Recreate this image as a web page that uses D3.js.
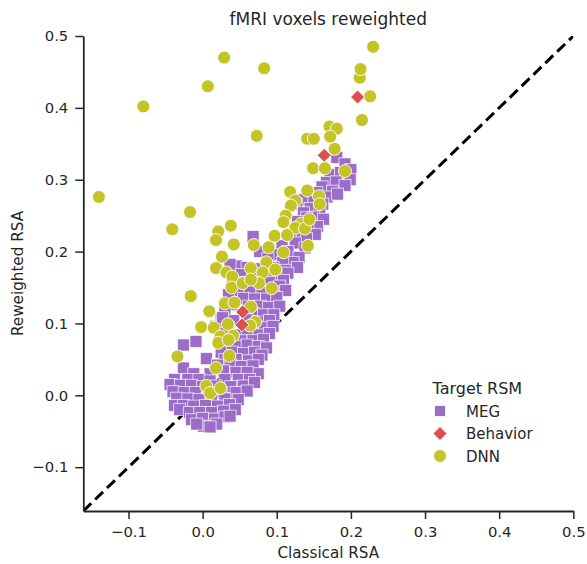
<!DOCTYPE html>
<html>
<head>
<meta charset="utf-8">
<script src="https://cdn.jsdelivr.net/npm/d3@7"></script>
<style>
  html, body { margin: 0; padding: 0; background: #fff; }
  svg { display: block; font-family: "DejaVu Sans", sans-serif; }
</style>
</head>
<body>
<svg id="chart" width="587" height="564"></svg>
<script>
// ---------------- data ----------------
const titleText = "fMRI voxels reweighted";
const xLabel = "Classical RSA";
const yLabel = "Reweighted RSA";
const legendTitle = "Target RSM";
const seriesNames = ["MEG", "Behavior", "DNN"];
const seriesColors = ["#9b6dc8", "#dd4f4f", "#c4c427"];
const xTicks = [-0.1, 0.0, 0.1, 0.2, 0.3, 0.4, 0.5];
const yTicks = [-0.1, 0.0, 0.1, 0.2, 0.3, 0.4, 0.5];
const axisMin = -0.161, axisMax = 0.5;

// MEG target RSM points [classical, reweighted]
const megPoints = [
  [0.181,0.331],[0.192,0.322],[0.200,0.314],[0.172,0.307],[0.186,0.310],[0.199,0.300],[0.167,0.296],
  [0.180,0.297],[0.192,0.292],[0.161,0.290],[0.175,0.284],[0.154,0.282],[0.142,0.280],[0.168,0.276],
  [0.182,0.280],[0.135,0.272],[0.150,0.270],[0.162,0.266],[0.127,0.266],[0.145,0.260],[0.158,0.256],
  [0.136,0.254],[0.150,0.248],[0.140,0.247],[0.163,0.245],[0.128,0.242],
  [0.155,0.235],[0.142,0.232],[0.152,0.224],[0.130,0.228],[0.118,0.222],[0.140,0.218],[0.107,0.208],
  [0.125,0.212],[0.138,0.205],[0.068,0.221],[0.077,0.200],[0.115,0.200],[0.100,0.196],[0.130,0.192],
  [0.122,0.185],[0.108,0.185],
  [0.088,0.190],[0.046,0.180],[0.037,0.182],[0.060,0.178],[0.075,0.176],[0.095,0.178],[0.112,0.174],
  [0.128,0.178],[0.052,0.168],[0.068,0.166],[0.085,0.168],[0.100,0.165],[0.115,0.170],[0.040,0.158],
  [0.058,0.157],[0.075,0.156],[0.090,0.157],[0.109,0.160],[0.104,0.152],[0.048,0.146],[0.064,0.145],
  [0.080,0.146],[0.095,0.144],[0.112,0.146],[0.035,0.140],[0.055,0.135],[0.070,0.134],[0.086,0.134],
  [0.100,0.136],
  [0.040,0.126],[0.062,0.124],[0.078,0.124],[0.089,0.122],[0.104,0.124],[0.030,0.116],[0.068,0.114],
  [0.082,0.112],[0.096,0.112],[0.025,0.106],[0.042,0.104],[0.060,0.105],[0.074,0.102],[0.090,0.104],
  [0.018,0.096],[0.035,0.094],[0.068,0.093],[0.083,0.094],[0.095,0.096],[0.028,0.086],[0.045,0.084],
  [0.060,0.084],[0.076,0.084],[0.090,0.086],[0.038,0.076],[0.052,0.076],[0.068,0.076],[0.082,0.078],
  [-0.009,0.075],[0.027,0.108],
  [-0.026,0.070],[0.030,0.070],[0.045,0.068],[0.060,0.070],[0.075,0.068],[0.086,0.066],[0.025,0.060],
  [0.040,0.060],[0.055,0.058],[0.070,0.060],[0.080,0.056],[0.005,0.051],[0.030,0.050],[0.045,0.050],
  [0.062,0.048],[0.075,0.050],[0.020,0.042],[0.038,0.042],[0.052,0.040],[0.068,0.041],[-0.026,0.038],
  [0.075,0.030],[0.028,0.034],[0.045,0.032],[0.060,0.032],
  [-0.012,0.030],[0.010,0.030],[-0.038,0.022],[-0.020,0.022],[-0.005,0.022],[0.010,0.020],[0.030,0.022],
  [0.048,0.022],[0.063,0.022],[-0.044,0.015],[-0.030,0.014],[-0.015,0.014],[0.000,0.012],[0.018,0.013],
  [0.038,0.012],[0.055,0.013],[0.070,0.018],[-0.040,0.005],[-0.025,0.004],[-0.010,0.004],[0.008,0.003],
  [0.025,0.004],[0.045,0.004],[0.060,0.006],[-0.035,-0.004],[-0.020,-0.005],[-0.005,-0.006],[0.012,-0.004],
  [0.030,-0.005],[0.048,-0.006],[-0.038,-0.014],[-0.026,-0.014],[-0.012,-0.015],[0.004,-0.014],
  [0.020,-0.015],[0.036,-0.013],[-0.031,-0.020],[-0.018,-0.024],[-0.004,-0.024],[0.012,-0.024],
  [0.028,-0.022],[0.044,-0.020],[-0.015,-0.034],[0.000,-0.032],[0.016,-0.033],[0.030,-0.030],
  [0.037,-0.029],[0.001,-0.043],[0.019,-0.040],[-0.008,-0.040],[0.010,-0.044]
];

// Behavior target RSM points
const behaviorPoints = [
  [0.209,0.415],[0.164,0.334],[0.054,0.116],[0.053,0.098]
];

// DNN target RSM points
const dnnPoints = [
  [-0.140,0.276],[-0.080,0.402],[0.007,0.430],[0.029,0.470],[0.083,0.455],[0.073,0.361],
  [-0.041,0.231],[-0.017,0.255],[-0.016,0.138],[0.038,0.236],[0.021,0.228],[0.018,0.216],
  [0.042,0.210],[0.069,0.209],[0.026,0.193],[0.018,0.177],[0.032,0.171],[0.040,0.165],
  [0.039,0.150],[0.054,0.156],[0.065,0.177],[0.097,0.222],[0.089,0.206],[0.109,0.199],
  [0.086,0.185],[0.098,0.175],[0.081,0.171],[0.076,0.156],[0.093,0.149],[0.030,0.128],
  [0.043,0.129],[0.065,0.123],[0.009,0.117],[-0.002,0.095],[0.015,0.094],[0.034,0.099],
  [0.071,0.102],[0.064,0.097],[0.024,0.082],[0.041,0.083],[0.021,0.073],[0.035,0.077],
  [-0.034,0.054],[0.036,0.055],[0.018,0.038],[0.005,0.013],[0.010,0.003],[0.024,0.010],
  [0.118,0.283],[0.141,0.285],[0.125,0.271],[0.119,0.264],[0.112,0.250],[0.109,0.241],
  [0.133,0.239],[0.125,0.233],[0.114,0.223],[0.138,0.232],[0.142,0.208],[0.149,0.316],
  [0.157,0.277],[0.158,0.266],[0.144,0.245],[0.165,0.316],[0.192,0.312],[0.178,0.343],
  [0.141,0.357],[0.150,0.357],[0.171,0.374],[0.181,0.371],[0.172,0.360],[0.215,0.383],
  [0.226,0.416],[0.212,0.442],[0.213,0.454],[0.230,0.485],[0.065,0.161]
];

// ---------------- chart ----------------
const svg = d3.select("#chart");
const margin = {left: 83.3, right: 13.7, top: 36, bottom: 53};
const W = 587, H = 564;
const x = d3.scaleLinear().domain([axisMin, axisMax]).range([margin.left, W - margin.right]);
const y = d3.scaleLinear().domain([axisMin, axisMax]).range([H - margin.bottom, margin.top]);
const ink = "#262626";

svg.append("defs").append("clipPath").attr("id", "plotclip")
  .append("rect")
  .attr("x", x(axisMin)).attr("y", y(axisMax))
  .attr("width", x(axisMax) - x(axisMin)).attr("height", y(axisMin) - y(axisMax));

// title
svg.append("text")
  .attr("x", (x(axisMin) + x(axisMax)) / 2).attr("y", 25)
  .attr("text-anchor", "middle").attr("font-size", 17).attr("fill", ink)
  .text(titleText);

const plot = svg.append("g").attr("clip-path", "url(#plotclip)");

// identity dashed line
plot.append("line")
  .attr("x1", x(axisMin)).attr("y1", y(axisMin))
  .attr("x2", x(axisMax)).attr("y2", y(axisMax))
  .attr("stroke", "#000").attr("stroke-width", 3)
  .attr("stroke-dasharray", "11,5.5");

const sq = 12;
// MEG squares
plot.append("g").selectAll("rect").data(megPoints).join("rect")
  .attr("x", d => x(d[0]) - sq / 2).attr("y", d => y(d[1]) - sq / 2)
  .attr("width", sq).attr("height", sq)
  .attr("fill", seriesColors[0]).attr("stroke", "#fff").attr("stroke-width", 0.8)
  .attr("stroke-opacity", 0.85);

// DNN circles
plot.append("g").selectAll("circle").data(dnnPoints).join("circle")
  .attr("cx", d => x(d[0])).attr("cy", d => y(d[1])).attr("r", 6.5)
  .attr("fill", seriesColors[2]).attr("stroke", "#fff").attr("stroke-width", 0.9);

// Behavior diamonds
const dm = 7;
const diamond = (cx, cy, r) => `M${cx},${cy - r}L${cx + r},${cy}L${cx},${cy + r}L${cx - r},${cy}Z`;
plot.append("g").selectAll("path").data(behaviorPoints).join("path")
  .attr("d", d => diamond(x(d[0]), y(d[1]), dm))
  .attr("fill", seriesColors[1]).attr("stroke", "#fff").attr("stroke-width", 0.9);

// axes
const fmt = d3.format(".1f");
const xAxis = svg.append("g").attr("transform", `translate(0,${y(axisMin)})`)
  .call(d3.axisBottom(x).tickValues(xTicks).tickFormat(fmt).tickSize(8).tickSizeOuter(0).tickPadding(7));
const yAxis = svg.append("g").attr("transform", `translate(${x(axisMin)},0)`)
  .call(d3.axisLeft(y).tickValues(yTicks).tickFormat(fmt).tickSize(8).tickSizeOuter(0).tickPadding(7));
[xAxis, yAxis].forEach(a => {
  a.select(".domain").attr("stroke", ink).attr("stroke-width", 1.8);
  a.selectAll(".tick line").attr("stroke", ink).attr("stroke-width", 1.5);
  a.selectAll(".tick text").attr("fill", ink).attr("font-size", 14.8)
    .attr("font-family", "DejaVu Sans");
});

// axis labels
svg.append("text")
  .attr("x", (x(axisMin) + x(axisMax)) / 2).attr("y", 558)
  .attr("text-anchor", "middle").attr("font-size", 15.2).attr("fill", ink)
  .text(xLabel);
svg.append("text")
  .attr("transform", `translate(23,${(y(axisMin) + y(axisMax)) / 2}) rotate(-90)`)
  .attr("text-anchor", "middle").attr("font-size", 15.2).attr("fill", ink)
  .text(yLabel);

// legend
const lg = svg.append("g");
lg.append("text").attr("x", 432.5).attr("y", 394).attr("font-size", 16).attr("fill", ink).text(legendTitle);
const itemY = [411, 433.5, 456];
seriesNames.forEach((name, i) => {
  const cy = itemY[i], cx = 440;
  if (i === 0) {
    lg.append("rect").attr("x", cx - 5.5).attr("y", cy - 5.5).attr("width", 11).attr("height", 11)
      .attr("fill", seriesColors[0]).attr("stroke", "#fff").attr("stroke-width", 0.8);
  } else if (i === 1) {
    lg.append("path").attr("d", diamond(cx, cy, 7)).attr("fill", seriesColors[1])
      .attr("stroke", "#fff").attr("stroke-width", 0.9);
  } else {
    lg.append("circle").attr("cx", cx).attr("cy", cy).attr("r", 6.4).attr("fill", seriesColors[2])
      .attr("stroke", "#fff").attr("stroke-width", 0.9);
  }
  lg.append("text").attr("x", 466).attr("y", cy + 5.5).attr("font-size", 15).attr("fill", ink).text(name);
});
</script>
</body>
</html>
